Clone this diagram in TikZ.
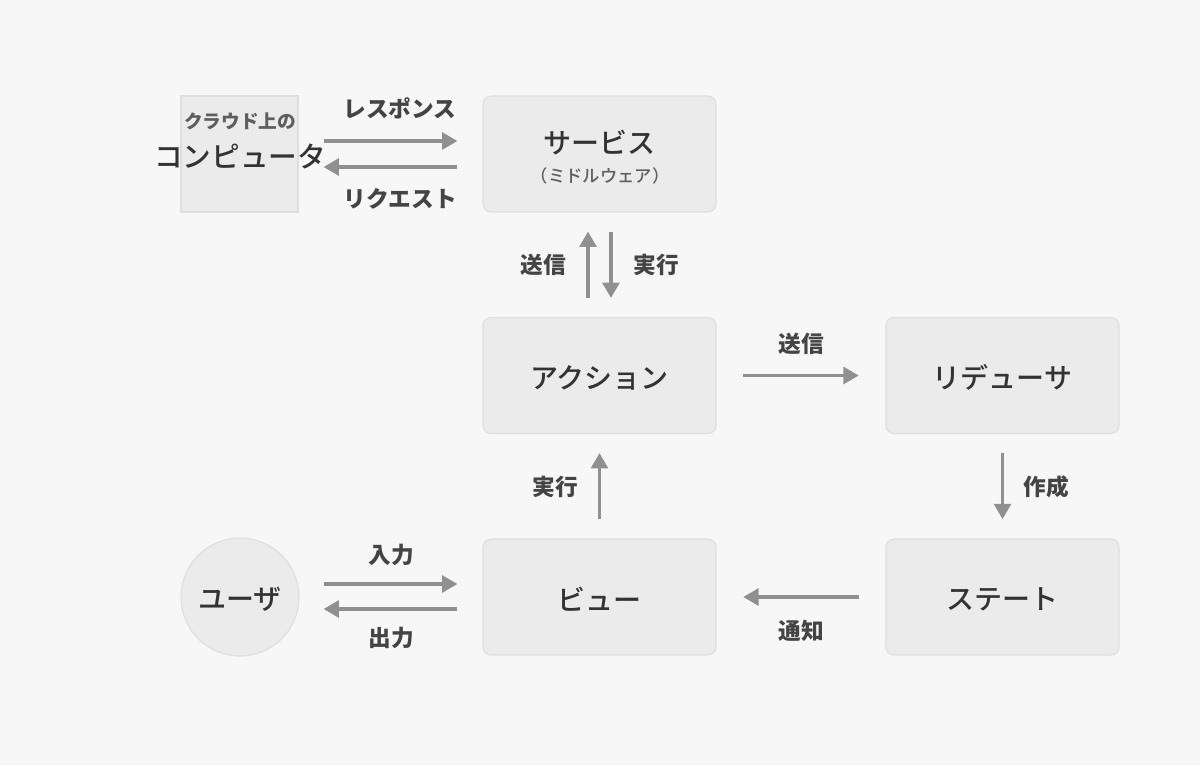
\documentclass[tikz,border=0pt]{standalone}
\usepackage{fontspec}
\setmainfont{Noto Sans CJK JP}
\newfontfamily\medfont{Noto Sans CJK JP Medium}
\usetikzlibrary{arrows.meta}
\definecolor{bg}{HTML}{F7F7F7}
\definecolor{boxfill}{HTML}{EBEBEB}
\definecolor{boxline}{HTML}{DEDEDE}
\definecolor{arrowc}{HTML}{909090}
\definecolor{txt}{HTML}{333333}
\definecolor{lbl}{HTML}{444444}
\definecolor{subtxt}{HTML}{5E5E5E}
\tikzset{
  box/.style={draw=boxline, line width=0.8pt, fill=boxfill, rounded corners=6pt,
    minimum width=174.75pt, minimum height=87pt, inner sep=0pt},
  sqbox/.style={draw=boxline, line width=0.8pt, fill=boxfill,
    minimum width=87.75pt, minimum height=87pt, inner sep=0pt},
  circbox/.style={draw=boxline, line width=0.8pt, fill=boxfill, circle,
    minimum size=88.5pt, inner sep=0pt},
  maintext/.style={text=txt, font=\medfont\fontsize{21}{25}\selectfont, inner sep=0pt},
  lab/.style={text=lbl, font=\fontsize{17}{20}\selectfont\bfseries, inner sep=0pt},
  arr/.style={draw=arrowc, line width=2.7pt, -{Triangle[length=11.5pt,width=12.5pt]}},
}
\begin{document}
\begin{tikzpicture}[x=0.75pt,y=-0.75pt]
\useasboundingbox[fill=bg] (0,0) rectangle (1200,765);
% nodes
\node[sqbox] (comp) at (239.5,154) {};
\node[text=subtxt, font=\fontsize{14}{16}\selectfont\bfseries, inner sep=0pt] (compa) at (240,121) {クラウド上の};
\node[maintext, font=\medfont\fontsize{21.5}{25}\selectfont] (compb) at (240,156) {コンピュータ};
\node[box] (serv) at (599.5,154) {};
\node[maintext] (servt) at (599.5,143) {サービス};
\node[text=subtxt, font=\medfont\fontsize{13}{15}\selectfont, inner sep=0pt] (servs) at (600,176) {（ミドルウェア）};
\node[box] (act) at (599.5,375.5) {};
\node[maintext] (actt) at (599.5,377.5) {アクション};
\node[box] (red) at (1002.5,375.5) {};
\node[maintext] (redt) at (1002.5,377.5) {リデューサ};
\node[box] (view) at (599.5,597) {};
\node[maintext] (viewt) at (599.5,599) {ビュー};
\node[box] (state) at (1002.5,597) {};
\node[maintext] (statet) at (1002.5,599) {ステート};
\node[circbox] (user) at (240,597) {};
\node[maintext] (usert) at (240,599) {ユーザ};
% arrows
\draw[arr, shorten <=18.75pt, shorten >=18.75pt] ([yshift=9.75pt]comp.east) -- ([yshift=9.75pt]serv.west);
\draw[arr, shorten <=18.75pt, shorten >=18.75pt] ([yshift=-9.75pt]serv.west) -- ([yshift=-9.75pt]comp.east);
\draw[arr, shorten <=14.25pt, shorten >=14.25pt] ([xshift=-8.6pt]act.north) -- ([xshift=-8.6pt]serv.south);
\draw[arr, shorten <=14.25pt, shorten >=14.25pt] ([xshift=8.6pt]serv.south) -- ([xshift=8.6pt]act.north);
\draw[arr, shorten <=20pt, shorten >=20pt] (act.east) -- (red.west);
\draw[arr, shorten <=14.25pt, shorten >=14.5pt] (red.south) -- (state.north);
\draw[arr, shorten <=20pt, shorten >=20pt] (state.west) -- (view.east);
\draw[arr, shorten <=14.25pt, shorten >=14.25pt] (view.north) -- (act.south);
\draw[arr, shorten <=18pt, shorten >=18.75pt] ([yshift=9.75pt]user.east) -- ([yshift=9.75pt]view.west);
\draw[arr, shorten <=18.75pt, shorten >=18pt] ([yshift=-9pt]view.west) -- ([yshift=-9pt]user.east);
% labels
\node[lab] (l1) at (400,108) {レスポンス};
\node[lab] (l2) at (400,199) {リクエスト};
\node[lab] (l3) at (543,265) {送信};
\node[lab] (l4) at (656,265) {実行};
\node[lab] (l5) at (801,344) {送信};
\node[lab] (l6) at (1046,487) {作成};
\node[lab] (l7) at (801,631) {通知};
\node[lab] (l8) at (555,487) {実行};
\node[lab] (l9) at (391,555) {入力};
\node[lab] (l10) at (391,638) {出力};
\end{tikzpicture}
\end{document}
